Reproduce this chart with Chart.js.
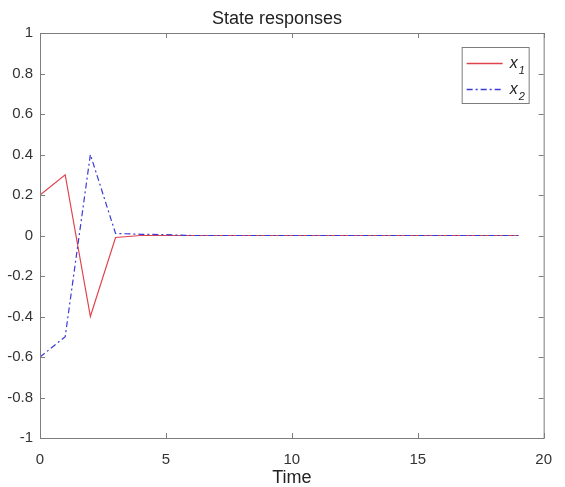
<!DOCTYPE html>
<html>
<head>
<meta charset="utf-8">
<script src="https://cdn.jsdelivr.net/npm/chart.js@4/dist/chart.umd.min.js"></script>
<style>
  html, body { margin: 0; padding: 0; background: #fff; }
  #wrap { width: 565px; height: 487px; }
</style>
</head>
<body>
<div id="wrap"><canvas id="states"></canvas></div>
<script>
// sample times and state values
const times = [0, 1, 2, 3, 4, 5, 6, 7, 8, 9, 10, 11, 12, 13, 14, 15, 16, 17, 18, 19]
const x1 = [0.2, 0.3, -0.4, -0.01, 0, 0, 0, 0, 0, 0, 0, 0, 0, 0, 0, 0, 0, 0, 0, 0]
const x2 = [-0.6, -0.5, 0.4, 0.01, 0.006, 0.004, 0, 0, 0, 0, 0, 0, 0, 0, 0, 0, 0, 0, 0, 0]
const xTicks = [0, 5, 10, 15, 20]
const yTicks = [-1, -0.8, -0.6, -0.4, -0.2, 0, 0.2, 0.4, 0.6, 0.8, 1]
const seriesNames = ['1', '2']

const axisColor = '#7d7d7d'
const labelColor = '#333'
const redColor = '#e0434c'
const blueColor = '#3a3ad6'
const dashDot = [ 6, 3, 2, 3 ]
const font = 'Liberation Sans, Arial, sans-serif'

const toPoints = ys => times.map( ( t, i ) => ( { x: t, y: ys[i] } ) )

// MATLAB style box with inward ticks, plus the little legend in the corner
const boxPlugin = {
  id: 'matlabBox',
  afterDraw( chart ) {
    const { ctx, chartArea: a, scales } = chart
    ctx.save()
    ctx.strokeStyle = axisColor
    ctx.lineWidth = 1
    ctx.strokeRect( a.left + 0.5, a.top + 0.5, a.right - a.left, a.bottom - a.top )
    ctx.beginPath()
    xTicks.forEach( v => {
      const px = Math.round( scales.x.getPixelForValue( v ) ) + 0.5
      ctx.moveTo( px, a.bottom ); ctx.lineTo( px, a.bottom - 5 )
      ctx.moveTo( px, a.top ); ctx.lineTo( px, a.top + 5 )
    } )
    yTicks.forEach( v => {
      const py = Math.round( scales.y.getPixelForValue( v ) ) + 0.5
      ctx.moveTo( a.left, py ); ctx.lineTo( a.left + 5, py )
      ctx.moveTo( a.right, py ); ctx.lineTo( a.right - 5, py )
    } )
    ctx.stroke()

    // legend
    const lx = a.right - 82, ly = a.top + 14, lw = 67, lh = 56
    ctx.fillStyle = '#fff'
    ctx.fillRect( lx, ly, lw, lh )
    ctx.strokeStyle = axisColor
    ctx.strokeRect( lx + 0.5, ly + 0.5, lw, lh )
    const styles = [ { color: redColor, dash: [] }, { color: blueColor, dash: dashDot } ]
    styles.forEach( ( st, i ) => {
      const y = Math.round( ly + 16 + i * 26 ) + 0.5
      ctx.strokeStyle = st.color
      ctx.lineWidth = 1.3
      ctx.setLineDash( st.dash )
      ctx.beginPath()
      ctx.moveTo( lx + 5, y ); ctx.lineTo( lx + 41, y )
      ctx.stroke()
      ctx.setLineDash( [] )
      ctx.fillStyle = '#222'
      ctx.textBaseline = 'alphabetic'
      ctx.font = 'italic 16px ' + font
      ctx.fillText( 'x', lx + 48, y + 4 )
      ctx.font = 'italic 11px ' + font
      ctx.fillText( seriesNames[i], lx + 57, y + 10 )
    } )
    ctx.restore()
  }
}

const config = {
  type: 'line',
  data: {
    datasets: [ {
      label: 'x1',
      data: toPoints( x1 ),
      borderColor: redColor,
      borderWidth: 1.2,
      pointRadius: 0,
      tension: 0,
      order: 2
    }, {
      label: 'x2',
      data: toPoints( x2 ),
      borderColor: blueColor,
      borderWidth: 1.2,
      borderDash: dashDot,
      pointRadius: 0,
      tension: 0,
      order: 1
    } ]
  },
  options: {
    responsive: true,
    maintainAspectRatio: false,
    animation: false,
    layout: { padding: { left: 0, right: 11, top: 0, bottom: 0 } },
    plugins: {
      legend: { display: false },
      tooltip: { enabled: false },
      title: {
        display: true,
        text: 'State responses',
        color: '#222',
        font: { family: font, size: 18, weight: 'normal' },
        padding: { top: 8, bottom: 3.4 }
      }
    },
    scales: {
      x: {
        type: 'linear',
        min: 0,
        max: 20,
        afterBuildTicks: s => { s.ticks = xTicks.map( v => ( { value: v } ) ) },
        afterFit: s => { s.height = 49 },
        grid: { display: false, drawTicks: false },
        border: { display: false },
        ticks: { color: labelColor, font: { family: font, size: 15 }, padding: 13, maxRotation: 0 },
        title: {
          display: true, text: 'Time', color: '#222',
          font: { family: font, size: 18, lineHeight: 1 },
          padding: { top: 0, bottom: 0 }
        }
      },
      y: {
        min: -1,
        max: 1,
        afterBuildTicks: s => { s.ticks = yTicks.map( v => ( { value: v } ) ) },
        afterFit: s => { s.width = 40 },
        grid: { display: false, drawTicks: false },
        border: { display: false },
        ticks: {
          color: labelColor,
          font: { family: font, size: 15 },
          padding: 7,
          callback: v => String( Math.round( v * 10 ) / 10 )
        }
      }
    }
  },
  plugins: [ boxPlugin ]
}

const graph = new Chart( document.getElementById( 'states' ), config )
</script>
</body>
</html>
